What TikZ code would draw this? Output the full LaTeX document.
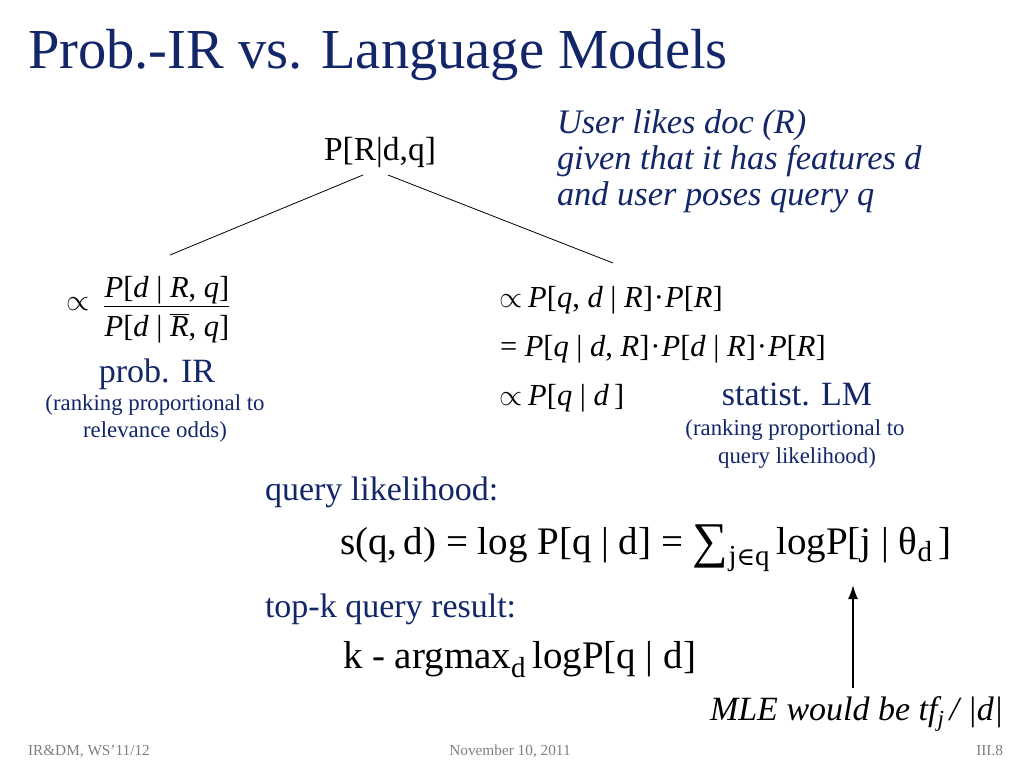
\documentclass[tikz,border=0pt]{standalone}
\usepackage{fontspec}
\usepackage{graphicx}
\setmainfont{Liberation Serif}
\newfontfamily\symf{DejaVu Serif}
\usetikzlibrary{arrows.meta}
\definecolor{navy}{RGB}{18,38,104}
\definecolor{foot}{RGB}{128,128,128}
\newcommand\mi[1]{\textit{#1}}
\newcommand\prp{\scalebox{1.2}{$\propto$}}
\newcommand\cd{\kern1pt·\kern1pt}
\begin{document}
\begin{tikzpicture}[x=1pt,y=-1pt,
  every node/.style={inner sep=0pt, outer sep=0pt},
  ttl/.style={font=\fontsize{56.5}{60}\selectfont, text=navy, anchor=base west},
  blu/.style={font=\fontsize{34}{40}\selectfont, text=navy, anchor=base},
  bluit/.style={font=\fontsize{34.4}{40}\selectfont\itshape, text=navy, anchor=base west},
  small/.style={font=\fontsize{22.8}{27}\selectfont, text=navy, anchor=base},
  eq/.style={font=\fontsize{30.5}{34}\selectfont, anchor=base west},
  big/.style={font=\fontsize{39}{44}\selectfont, anchor=base west},
  blab/.style={font=\fontsize{34}{40}\selectfont, text=navy, anchor=base west},
  ft/.style={font=\fontsize{15.3}{18}\selectfont, text=foot},
  conn/.style={draw=black, line width=0.8pt}
]
\useasboundingbox[fill=white] (0,0) rectangle (1024,768);
\node[ttl] (title) at (28,68) {Prob.-IR vs. Language Models};
\node[font=\fontsize{33.5}{36}\selectfont, anchor=base] (root) at (380,160) {P[R|d,q]};
\node[bluit] (desc1) at (557,133) {User likes doc (R)};
\node[bluit] (desc2) at (557,169) {given that it has features d};
\node[bluit] (desc3) at (557,205) {and user poses query q};
\coordinate (lend) at (170,255);
\coordinate (rend) at (613,263);
\coordinate (lstart) at (363,175);
\coordinate (rstart) at (388,175);
\draw[conn] (lstart) -- (lend);
\draw[conn] (rstart) -- (rend);
% left fraction
\node[eq, anchor=base] (prop0) at (78,310) {\prp};
\node[eq, anchor=base] (num) at (167,297) {\mi{P}[\mi{d} | \mi{R}, \mi{q}]};
\node[eq, anchor=base] (den) at (167,336) {\mi{P}[\mi{d} | $\overline{\mbox{\mi{R}}}$, \mi{q}]};
\coordinate (barl) at (104,306);
\coordinate (barr) at (229,306);
\draw[line width=0.8pt] (barl) -- (barr);
\node[blu] (pir) at (157,382) {prob. IR};
\node[small] (pirs1) at (155,410) {(ranking proportional to};
\node[small] (pirs2) at (155,437) {relevance odds)};
% right equations
\node[eq] (e1) at (499,307) {\prp\kern6pt \mi{P}[\mi{q}, \mi{d} | \mi{R}]\cd\mi{P}[\mi{R}]};
\node[eq] (e2) at (500,356) {= \mi{P}[\mi{q} | \mi{d}, \mi{R}]\cd\mi{P}[\mi{d} | \mi{R}]\cd\mi{P}[\mi{R}]};
\node[eq] (e3) at (499,405) {\prp\kern6pt \mi{P}[\mi{q} | \mi{d}\,]};
\node[blu] (slm) at (797,405) {statist. LM};
\node[small] (slms1) at (795,435) {(ranking proportional to};
\node[small] (slms2) at (797,463) {query likelihood)};
% query likelihood
\node[blab] (ql) at (265,500) {query likelihood:};
\node[big] (sqd) at (340,554) {s(q,\,d) = log P[q | d] = \raisebox{-3pt}{\fontsize{50}{50}\selectfont∑}\raisebox{-11pt}{\fontsize{29}{30}\selectfont j{\symf\fontsize{25}{30}\selectfont ∈}q}\,logP[j | θ\raisebox{-7pt}{\fontsize{29}{30}\selectfont d}\,]};
\node[blab] (tk) at (265,617) {top-k query result:};
\node[big] (kam) at (343,668) {k - argmax\raisebox{-9pt}{\fontsize{29}{30}\selectfont d}\,logP[q | d]};
\coordinate (atop) at (853,585);
\coordinate (abot) at (853,688);
\draw[line width=1.8pt, -{Latex[length=14pt,width=10pt]}] (abot) -- (atop);
\node[font=\fontsize{34}{40}\selectfont\itshape, anchor=base west] (mle) at (710,720) {MLE would be tf\raisebox{-6pt}{\fontsize{23}{24}\selectfont j}\,/ |d|};
% footer
\node[ft, anchor=base west] (f1) at (28,755) {IR\&DM, WS'11/12};
\node[ft, anchor=base] (f2) at (510,755) {November 10, 2011};
\node[ft, anchor=base east] (f3) at (1003,755) {III.8};
\end{tikzpicture}
\end{document}
